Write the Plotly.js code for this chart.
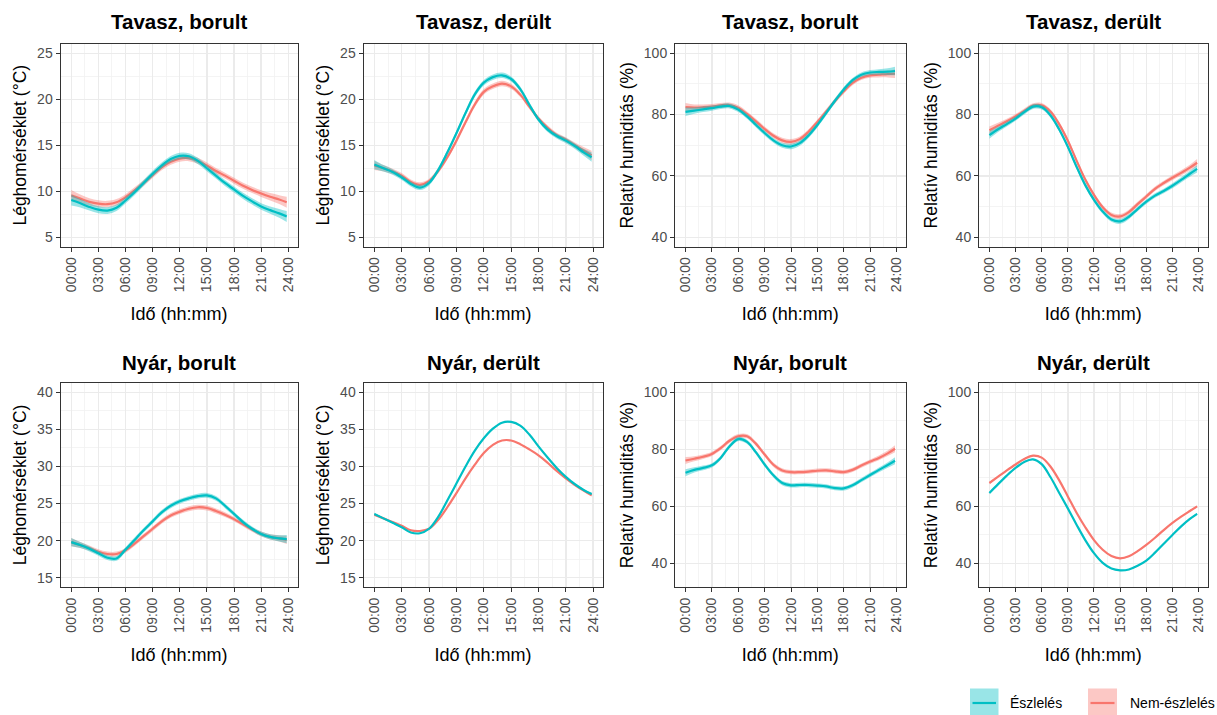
<!DOCTYPE html>
<html>
<head>
<meta charset="utf-8">
<script src="https://cdn.plot.ly/plotly-3.0.1.min.js"></script>
<style>html,body{margin:0;padding:0;background:#fff}#chart{width:1217px;height:715px}</style>
</head>
<body>
<div id="chart"></div>
<script>
// ---- data ----
const hours = [0,1,2,3,4,5,6,7,8,9,10,11,12,13,14,15,16,17,18,19,20,21,22,23,23.83];
const xTickVals = [0,3,6,9,12,15,18,21,24];
const xTickLabels = ["00:00","03:00","06:00","09:00","12:00","15:00","18:00","21:00","24:00"];
const xMinorVals = [1.5,4.5,7.5,10.5,13.5,16.5,19.5,22.5];
const seriesNames = ["Észlelés","Nem-észlelés"];
const panelTitles = ["Tavasz, borult","Tavasz, derült","Tavasz, borult","Tavasz, derült","Nyár, borult","Nyár, derült","Nyár, borult","Nyár, derült"];
const tempTitle = "Léghomérséklet (°C)";
const humTitle = "Relatív humiditás (%)";
const xTitle = "Idő (hh:mm)";

// Tavasz, borult – temperature
const tbTempEsz = [9.05,8.7,8.3,8.0,7.9,8.2,9.0,9.9,10.9,11.9,12.8,13.5,13.85,13.8,13.3,12.5,11.7,10.9,10.2,9.5,8.9,8.35,7.95,7.6,7.25];
const tbTempNem = [9.55,9.2,8.85,8.65,8.6,8.8,9.35,10.1,10.9,11.75,12.6,13.2,13.55,13.6,13.3,12.8,12.2,11.7,11.15,10.6,10.15,9.75,9.4,9.1,8.8];
const tbTempSe  = [0.6,0.45,0.4,0.38,0.36,0.35,0.34,0.33,0.32,0.32,0.32,0.33,0.34,0.34,0.33,0.32,0.32,0.32,0.32,0.33,0.34,0.36,0.4,0.48,0.6];
// Tavasz, derült – temperature
const tdTempEsz = [12.9,12.5,12.1,11.5,10.8,10.4,10.9,12.3,14.2,16.3,18.5,20.5,21.8,22.4,22.6,22.2,21.1,19.4,17.8,16.7,16.0,15.5,14.9,14.2,13.7];
const tdTempNem = [12.8,12.5,12.15,11.7,11.0,10.7,11.1,12.2,13.7,15.5,17.5,19.4,20.8,21.4,21.7,21.4,20.5,19.2,17.9,16.9,16.1,15.6,15.0,14.4,13.9];
const tdTempSe  = [0.5,0.35,0.3,0.28,0.27,0.27,0.27,0.27,0.27,0.27,0.28,0.3,0.3,0.3,0.3,0.28,0.27,0.27,0.26,0.26,0.27,0.28,0.3,0.38,0.5];
// Tavasz, borult – humidity
const tbHumEsz = [80.9,81.3,81.7,82.1,82.6,82.8,81.6,79.4,76.7,74.0,71.6,70.0,69.6,70.7,73.2,76.6,80.5,84.5,88.2,91.2,93.0,93.7,93.9,94.0,94.2];
const tbHumNem = [82.4,82.3,82.4,82.6,83.0,83.1,82.2,80.2,77.8,75.3,73.1,71.6,71.1,72.0,74.4,77.6,81.0,84.4,87.6,90.3,92.0,92.8,93.0,93.2,93.3];
const tbHumSe  = [1.4,1.0,0.9,0.85,0.8,0.8,0.8,0.8,0.8,0.8,0.8,0.85,0.9,0.85,0.8,0.8,0.8,0.8,0.8,0.75,0.75,0.8,0.9,1.1,1.4];
// Tavasz, derült – humidity
const tdHumEsz = [73.3,75.2,76.9,78.7,80.8,82.6,82.4,79.8,75.2,69.5,63.0,57.0,52.2,48.4,45.8,45.2,46.7,49.2,51.6,53.6,55.1,56.8,58.7,60.7,62.3];
const tdHumNem = [74.9,76.4,77.8,79.4,81.2,82.9,83.0,81.0,76.9,71.5,65.0,58.8,53.8,49.8,47.3,46.8,48.2,50.8,53.3,55.8,57.7,59.4,61.0,62.7,64.3];
const tdHumSe  = [1.2,0.9,0.8,0.75,0.75,0.75,0.75,0.75,0.75,0.75,0.75,0.75,0.75,0.75,0.75,0.8,0.8,0.75,0.75,0.75,0.75,0.8,0.85,0.95,1.2];
// Nyár, borult – temperature
const nbTempEsz = [19.8,19.4,18.9,18.3,17.7,17.6,18.8,20.1,21.4,22.6,23.8,24.7,25.3,25.7,26.0,26.1,25.7,24.7,23.6,22.5,21.6,20.9,20.5,20.3,20.2];
const nbTempNem = [19.8,19.4,19.0,18.5,18.2,18.2,18.7,19.6,20.6,21.6,22.6,23.4,23.9,24.3,24.5,24.4,24.0,23.5,22.9,22.2,21.5,20.9,20.5,20.3,20.1];
const nbTempSe  = [0.55,0.4,0.35,0.33,0.32,0.32,0.32,0.32,0.32,0.32,0.32,0.32,0.32,0.33,0.33,0.33,0.33,0.32,0.3,0.3,0.3,0.32,0.35,0.42,0.55];
// Nyár, derült – temperature
const ndTempEsz = [23.6,23.0,22.4,21.8,21.1,21.0,21.6,23.2,25.4,27.7,30.0,32.1,33.8,35.1,35.9,36.0,35.5,34.3,32.7,31.2,29.8,28.6,27.6,26.8,26.3];
const ndTempNem = [23.5,23.0,22.5,22.0,21.4,21.3,21.6,22.8,24.5,26.4,28.4,30.2,31.8,32.9,33.5,33.5,33.0,32.3,31.5,30.5,29.4,28.4,27.5,26.7,26.1];
const ndTempSe  = [0.15,0.1,0.08,0.08,0.08,0.08,0.08,0.08,0.08,0.08,0.08,0.08,0.08,0.08,0.08,0.08,0.08,0.08,0.08,0.08,0.08,0.08,0.08,0.1,0.15];
// Nyár, borult – humidity
const nbHumEsz = [71.8,72.8,73.5,74.4,77.0,81.0,83.6,82.6,79.0,74.7,70.9,68.2,67.4,67.5,67.5,67.3,67.0,66.4,66.3,67.4,69.2,71.0,72.8,74.5,76.0];
const nbHumNem = [76.1,76.7,77.4,78.4,80.4,83.0,84.6,84.6,82.0,78.2,74.6,72.6,72.0,72.0,72.2,72.5,72.6,72.3,72.0,72.8,74.3,75.7,77.0,78.6,80.2];
const nbHumSe  = [1.2,0.9,0.8,0.75,0.75,0.75,0.75,0.75,0.75,0.75,0.75,0.75,0.75,0.75,0.75,0.75,0.75,0.75,0.75,0.75,0.75,0.75,0.8,0.95,1.2];
// Nyár, derült – humidity
const ndHumEsz = [64.7,67.8,70.8,73.5,75.6,76.5,74.8,70.3,64.8,59.3,53.6,48.2,43.6,40.2,38.2,37.6,37.9,39.2,41.0,43.8,46.9,50.0,53.0,55.6,57.4];
const ndHumNem = [68.2,70.4,72.6,74.7,76.6,77.8,77.1,74.0,69.2,63.5,57.8,52.7,48.2,44.8,42.6,41.8,42.5,44.3,46.5,49.0,51.7,54.2,56.4,58.4,60.0];
const ndHumSe  = [0.35,0.22,0.2,0.2,0.2,0.2,0.2,0.2,0.2,0.2,0.2,0.2,0.2,0.2,0.2,0.2,0.2,0.2,0.2,0.2,0.2,0.2,0.2,0.25,0.35];

// y axis scales (limits, breaks)
const springTempLimits = [5,25], springTempTicks = [5,10,15,20,25], springTempMinor = [7.5,12.5,17.5,22.5];
const summerTempLimits = [15,40], summerTempTicks = [15,20,25,30,35,40], summerTempMinor = [17.5,22.5,27.5,32.5,37.5];
const springHumLimits = [40,100], summerHumLimits = [35,100], humTicks = [40,60,80,100], humMinor = [50,70,90];

// ---- style ----
const FONT = "Liberation Sans, Arial, Helvetica, sans-serif";
const lineColors = ["#00BFC4","#F8766D"];
const ribbonColors = ["rgba(0,191,196,0.4)","rgba(248,118,109,0.4)"];
const W = 1217, H = 715;
const colPx = [[60.5,297.5],[363.5,602.5],[675,905.5],[979,1207.5]];
const rowPx = [[44,246.5],[383,587]];

const panels = [
  {esz: tbTempEsz, nem: tbTempNem, se: tbTempSe, lim: springTempLimits, ticks: springTempTicks, minor: springTempMinor, yt: tempTitle},
  {esz: tdTempEsz, nem: tdTempNem, se: tdTempSe, lim: springTempLimits, ticks: springTempTicks, minor: springTempMinor, yt: tempTitle},
  {esz: tbHumEsz, nem: tbHumNem, se: tbHumSe, lim: springHumLimits, ticks: humTicks, minor: humMinor, yt: humTitle},
  {esz: tdHumEsz, nem: tdHumNem, se: tdHumSe, lim: springHumLimits, ticks: humTicks, minor: humMinor, yt: humTitle},
  {esz: nbTempEsz, nem: nbTempNem, se: nbTempSe, lim: summerTempLimits, ticks: summerTempTicks, minor: summerTempMinor, yt: tempTitle},
  {esz: ndTempEsz, nem: ndTempNem, se: ndTempSe, lim: summerTempLimits, ticks: summerTempTicks, minor: summerTempMinor, yt: tempTitle},
  {esz: nbHumEsz, nem: nbHumNem, se: nbHumSe, lim: summerHumLimits, ticks: humTicks, minor: humMinor, yt: humTitle},
  {esz: ndHumEsz, nem: ndHumNem, se: ndHumSe, lim: summerHumLimits, ticks: humTicks, minor: humMinor, yt: humTitle}
];

const traces = [];
const layout = {
  width: W, height: H,
  margin: {l: 0, r: 0, t: 0, b: 0},
  paper_bgcolor: "#ffffff", plot_bgcolor: "#ffffff",
  showlegend: false,
  font: {family: FONT, color: "#000000"},
  annotations: [], shapes: []
};

const xMin = hours[0], xMax = hours[hours.length - 1];
const xPad = (xMax - xMin) * 0.05;

panels.forEach((p, i) => {
  const n = i === 0 ? "" : String(i + 1);
  const col = i % 4, row = Math.floor(i / 4);
  const xd = [colPx[col][0] / W, colPx[col][1] / W];
  const yd = [1 - rowPx[row][1] / H, 1 - rowPx[row][0] / H];
  const series = [p.esz, p.nem];
  // draw Nem-észlelés first, Észlelés on top
  [1, 0].forEach(s => {
    const vals = series[s];
    const lo = vals.map((v, k) => v - p.se[k]);
    const hi = vals.map((v, k) => v + p.se[k]);
    traces.push({x: hours, y: lo, xaxis: "x" + n, yaxis: "y" + n, type: "scatter", mode: "lines",
      line: {width: 0, shape: "spline", color: lineColors[s]}, hoverinfo: "skip", showlegend: false});
    traces.push({x: hours, y: hi, xaxis: "x" + n, yaxis: "y" + n, type: "scatter", mode: "lines",
      fill: "tonexty", fillcolor: ribbonColors[s],
      line: {width: 0, shape: "spline", color: lineColors[s]}, hoverinfo: "skip", showlegend: false});
    traces.push({x: hours, y: vals, xaxis: "x" + n, yaxis: "y" + n, type: "scatter", mode: "lines",
      name: seriesNames[s], line: {width: 2.2, shape: "spline", color: lineColors[s]}, showlegend: false});
  });
  const yPad = (p.lim[1] - p.lim[0]) * 0.05;
  const common = {
    showline: true, mirror: true, linecolor: "#333333", linewidth: 1,
    ticks: "outside", ticklen: 4, tickwidth: 1, tickcolor: "#333333",
    tickfont: {family: FONT, size: 14, color: "#4D4D4D"},
    showgrid: true, gridcolor: "#EBEBEB", gridwidth: 1.4, zeroline: false, fixedrange: true
  };
  layout["xaxis" + n] = Object.assign({}, common, {
    domain: xd, anchor: "y" + n, range: [xMin - xPad, xMax + xPad],
    tickmode: "array", tickvals: xTickVals, ticktext: xTickLabels, tickangle: -90,
    minor: {tickmode: "array", tickvals: xMinorVals, showgrid: true, gridcolor: "#F1F1F1", gridwidth: 0.8, ticks: ""},
    title: {text: xTitle, font: {family: FONT, size: 18, color: "#000"}, standoff: 16}
  });
  layout["yaxis" + n] = Object.assign({}, common, {
    domain: yd, anchor: "x" + n, range: [p.lim[0] - yPad, p.lim[1] + yPad],
    tickmode: "array", tickvals: p.ticks, ticktext: p.ticks.map(String),
    minor: {tickmode: "array", tickvals: p.minor, showgrid: true, gridcolor: "#F1F1F1", gridwidth: 0.8, ticks: ""},
    title: {text: p.yt, font: {family: FONT, size: 17.5, color: "#000"}, standoff: 5}
  });
  layout.annotations.push({
    xref: "paper", yref: "paper", x: (xd[0] + xd[1]) / 2, y: 1 - (row === 0 ? 21.5 : 362) / H,
    xanchor: "center", yanchor: "middle", showarrow: false,
    text: panelTitles[i], font: {family: FONT, size: 20.5, color: "#000", weight: "bold"}
  });
});

// legend (ggplot-style keys)
const legendKeys = [[970, 998.5, 1008], [1088, 1117, 1128]];
seriesNames.forEach((name, s) => {
  const k = legendKeys[s];
  layout.shapes.push({type: "rect", xref: "paper", yref: "paper", x0: k[0] / W, x1: k[1] / W,
    y0: 1 - 716 / H, y1: 1 - 688.5 / H, fillcolor: ribbonColors[s], line: {width: 0}});
  layout.shapes.push({type: "line", xref: "paper", yref: "paper", x0: (k[0] + 2.5) / W, x1: (k[1] - 2.5) / W,
    y0: 1 - 703 / H, y1: 1 - 703 / H, line: {color: lineColors[s], width: 2.2}});
  layout.annotations.push({xref: "paper", yref: "paper", x: k[2] / W, y: 1 - 703 / H,
    xanchor: "left", yanchor: "middle", showarrow: false, text: name,
    font: {family: FONT, size: 14, color: "#000"}});
});

Plotly.newPlot("chart", traces, layout, {staticPlot: true, displayModeBar: false});
</script>
</body>
</html>
